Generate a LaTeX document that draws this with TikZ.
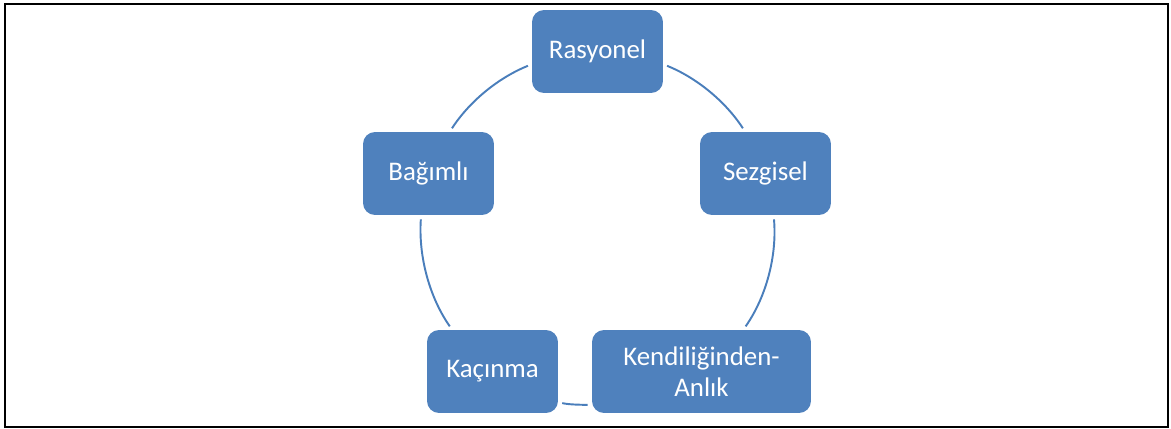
\documentclass[tikz,border=0pt]{standalone}
\usepackage{fontspec}
\setmainfont{Carlito}
\usepackage{tikz}
\usetikzlibrary{positioning}
\definecolor{boxblue}{HTML}{4F81BD}
\definecolor{lineblue}{HTML}{4A7EBB}

\begin{document}
\begin{tikzpicture}
[x=0.02cm,y=0.02cm,
 b/.style={rectangle,rounded corners=0.24cm,fill=boxblue,text=white,align=center,
   minimum width=2.62cm,minimum height=1.66cm,inner sep=0pt,
   font=\fontsize{15.3}{17.6}\selectfont},
 link/.style={lineblue,line width=1.1pt,looseness=0.87,shorten <=0.08cm,shorten >=0.08cm}]
\useasboundingbox (0,0) rectangle (1171,429);
\draw[line width=0.04cm] (5,2) rectangle (1168,425);
\node[b] (ras) at (597.5,377.5) {Rasyonel};
\node[b] (sez) at (765.5,255.5) {Sezgisel};
\node[b,minimum width=4.38cm] (kend) at (701.5,57.5) {Kendiliğinden-\\Anlık};
\node[b] (kac) at (492.5,57.5) {Kaçınma};
\node[b] (bag) at (428.5,255.5) {Bağımlı};
\draw[link] (ras.-11) to[out=-22,in=123] (sez.116);
\draw[link] (sez.-79) to[out=-85,in=55] (kend.45);
\draw[link] (kend.197) to[out=178,in=-13] (kac.-25);
\draw[link] (kac.134) to[out=125,in=-94] (bag.-100);
\draw[link] (bag.63) to[out=57,in=-158] (ras.191);
\end{tikzpicture}
\end{document}
